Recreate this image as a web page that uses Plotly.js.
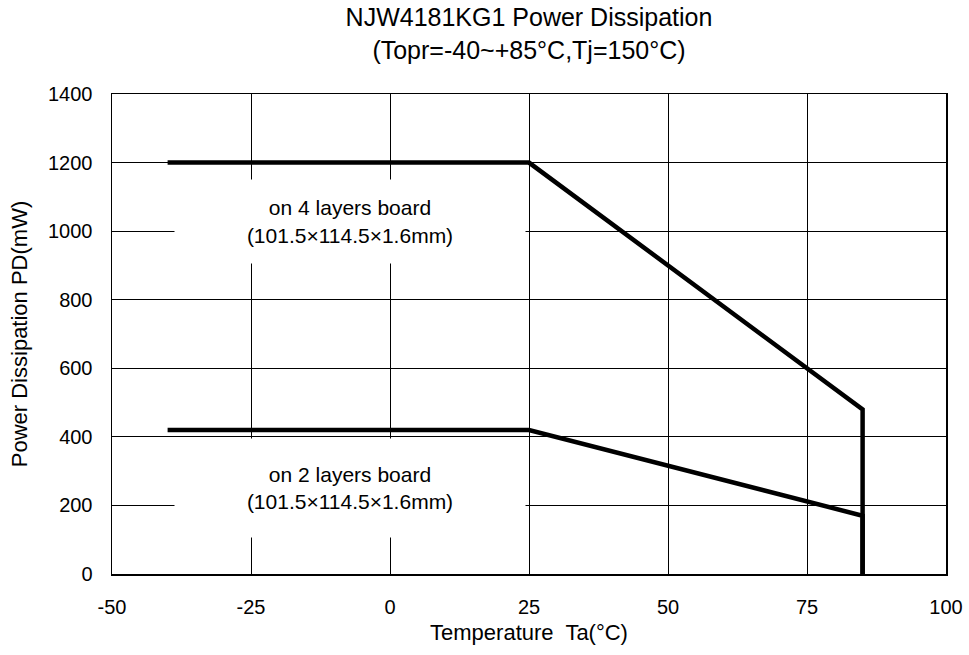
<!DOCTYPE html>
<html>
<head>
<meta charset="utf-8">
<script src="https://cdn.plot.ly/plotly-3.0.1.min.js"></script>
<style>html,body{margin:0;padding:0;background:#fff;}</style>
</head>
<body>
<div id="chart" style="width:969px;height:655px;"></div>
<script>
const temp4 = [-40, 25, 85, 85];
const pd4 = [1200, 1200, 480, 0];
const temp2 = [-40, 25, 85, 85];
const pd2 = [420, 420, 170, 0];
const xTicks = [-50, -25, 0, 25, 50, 75, 100];
const xTickLabels = ["-50", "-25", "0", "25", "50", "75", "100"];
const yTicks = [0, 200, 400, 600, 800, 1000, 1200, 1400];
const label4 = "on 4 layers board<br>(101.5×114.5×1.6mm)";
const label2 = "on 2 layers board<br>(101.5×114.5×1.6mm)";

const font = "Liberation Sans, Arial, sans-serif";
const traces = [
  {x: temp4, y: pd4, mode: "lines", line: {color: "#000", width: 4.5}, hoverinfo: "skip"},
  {x: temp2, y: pd2, mode: "lines", line: {color: "#000", width: 4.5}, hoverinfo: "skip"}
];
const layout = {
  width: 969, height: 655,
  margin: {l: 112, r: 23, t: 94, b: 81},
  paper_bgcolor: "#fff", plot_bgcolor: "#fff",
  showlegend: false,
  font: {family: font, color: "#000", size: 20},
  title: {text: "NJW4181KG1 Power Dissipation<br>(Topr=-40~+85°C,Tj=150°C)", font: {family: font, size: 25, color: "#000"},
    xref: "paper", x: 0.5, xanchor: "center", y: 0.96, yanchor: "top"},
  xaxis: {range: [-50, 100], tickvals: xTicks, ticktext: xTickLabels, ticks: "", showgrid: true, gridcolor: "#000", gridwidth: 1,
    showline: true, linecolor: "#000", linewidth: 1.5, mirror: true, zeroline: false, ticklabelstandoff: 14,
    tickfont: {size: 20}, title: {text: "Temperature  Ta(°C)", font: {size: 22}, standoff: 8}},
  yaxis: {range: [0, 1400], tickvals: yTicks, ticks: "", showgrid: true, gridcolor: "#000", gridwidth: 1,
    showline: true, linecolor: "#000", linewidth: 1.5, mirror: true, zeroline: false, ticklabelstandoff: 14,
    tickfont: {size: 20}, title: {text: "Power Dissipation PD(mW)", font: {size: 22}, standoff: 14}},
  annotations: [
    {x: -7.2, y: 1027, xref: "x", yref: "y", text: label4, showarrow: false, bgcolor: "#fff",
      width: 350, height: 83, borderpad: 0, font: {size: 21}},
    {x: -7.2, y: 252, xref: "x", yref: "y", text: label2, showarrow: false, bgcolor: "#fff",
      width: 350, height: 98, borderpad: 0, font: {size: 21}}
  ]
};
Plotly.newPlot("chart", traces, layout, {displayModeBar: false, staticPlot: true});
</script>
</body>
</html>
